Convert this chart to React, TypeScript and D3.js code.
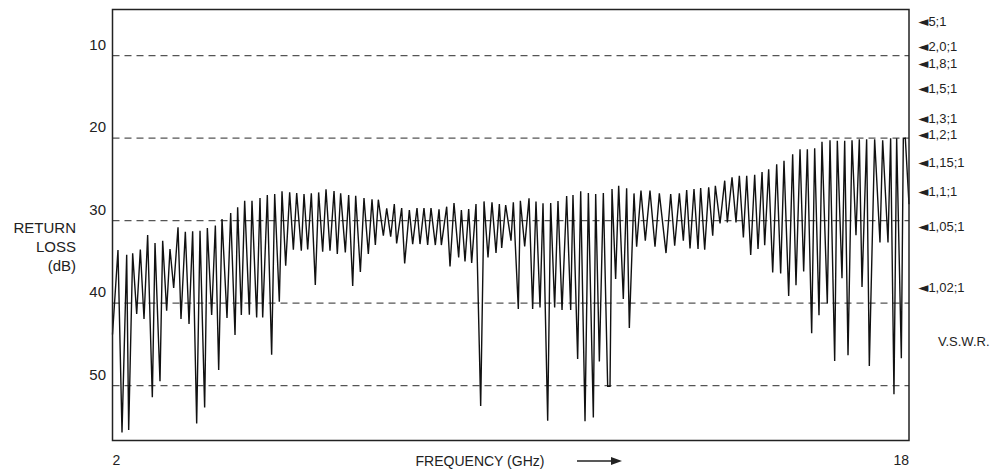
import React from 'react';
import * as d3 from 'd3';

// Frequency (GHz) of each vertex of the measured trace
const freqGHz = [
  2.0, 2.11, 2.191, 2.285, 2.325, 2.405, 2.486, 2.559, 2.633, 2.706, 2.8, 2.854, 2.954, 3.008, 3.088, 3.155, 3.229, 3.316,
  3.376, 3.463, 3.537, 3.61, 3.691, 3.758, 3.851, 3.905, 3.992, 4.066, 4.133, 4.2, 4.3, 4.374, 4.461, 4.514, 4.588, 4.655,
  4.749, 4.802, 4.896, 4.963, 5.017, 5.11, 5.197, 5.258, 5.351, 5.405, 5.479, 5.559, 5.633, 5.7, 5.793, 5.847, 5.921, 5.994,
  6.074, 6.141, 6.222, 6.289, 6.369, 6.45, 6.516, 6.583, 6.677, 6.744, 6.825, 6.885, 6.979, 7.052, 7.139, 7.213,
  7.28, 7.34, 7.441, 7.508, 7.588, 7.661, 7.708, 7.809, 7.869, 7.963, 8.03, 8.117, 8.177, 8.257, 8.331, 8.398, 8.485, 8.559,
  8.606, 8.713, 8.78, 8.86, 8.954, 9.008, 9.081, 9.155, 9.215, 9.302, 9.396, 9.463, 9.543, 9.623, 9.704, 9.771,
  9.818, 9.898, 10.005, 10.052, 10.152, 10.193, 10.28, 10.367, 10.44, 10.507, 10.588, 10.648, 10.742, 10.802, 10.882, 10.949,
  11.03, 11.123, 11.204, 11.25, 11.344, 11.405, 11.492, 11.559, 11.659, 11.706, 11.78, 11.86, 11.947, 11.994, 12.034, 12.107,
  12.168, 12.261, 12.328, 12.382, 12.476,
  12.529, 12.616, 12.703, 12.797, 12.898, 12.985, 13.119, 13.213, 13.293, 13.387, 13.467, 13.534, 13.601, 13.681, 13.762, 13.815,
  13.896, 13.976, 14.057, 14.11, 14.204, 14.298, 14.351, 14.445, 14.525, 14.592, 14.673, 14.74, 14.82, 14.9, 14.967, 15.048,
  15.101, 15.181, 15.262, 15.342, 15.422, 15.489, 15.583, 15.663, 15.73, 15.811, 15.884, 15.958, 16.045, 16.105, 16.192, 16.252,
  16.359, 16.413, 16.507, 16.56, 16.654, 16.708, 16.775, 16.855, 16.935, 17.002, 17.056, 17.149, 17.203, 17.31, 17.417, 17.471,
  17.578, 17.631, 17.698, 17.752, 17.846, 17.886, 17.926, 18.0,
];

// Return loss (dB) of each vertex
const returnLossDb = [
  43.8, 33.56, 55.66, 34.12, 55.37, 33.96, 41.31, 33.5, 41.92, 31.74, 51.41, 32.71, 49.47, 32.42, 40.91, 33.43, 38.16, 30.81,
  41.92, 31.33, 42.53, 31.29, 54.57, 31.21, 52.63, 30.89, 41.43, 30.57, 48.1, 29.8, 41.8, 29.07, 43.86, 28.38, 41.43, 27.58,
  41.39, 27.58, 41.72, 27.25, 41.72, 26.89, 46.24, 26.77, 39.82, 26.44, 35.45, 26.57, 33.52, 26.65, 33.64, 26.77, 33.47, 26.69,
  37.8, 26.57, 33.76, 26.2, 33.64, 26.4, 34.04, 26.69, 33.84, 26.89, 37.92, 26.97, 36.22, 27.25, 34.04, 27.41,
  32.95, 27.45, 31.82, 28.51, 31.94, 27.98, 32.75, 28.46, 35.17, 28.71, 32.83, 28.46, 32.83, 28.46, 32.95, 28.46, 32.95, 28.63,
  32.95, 28.3, 35.54, 27.86, 34.44, 28.71, 34.93, 28.59, 35.13, 27.98, 52.46, 27.66, 34.44, 27.78, 33.92, 27.98,
  33.31, 28.1, 32.42, 27.78, 40.71, 27.58, 33.11, 27.29, 40.71, 27.66, 40.51, 27.9, 54.24, 27.86, 40.51, 27.62,
  40.83, 27.01, 40.83, 26.89, 46.77, 26.44, 54.32, 26.65, 53.84, 26.77, 47.05, 26.65, 50.08, 50.08, 26.16, 37.07,
  25.76, 39.49, 26.08, 43.01, 26.69,
  33.15, 26.36, 32.42, 26.36, 33.15, 26.69, 33.92, 26.77, 33.03, 26.69, 32.42, 26.28, 33.35, 26.16, 33.43, 26.04,
  33.52, 25.96, 31.82, 25.76, 30.32, 25.15, 30.2, 24.75, 30.2, 24.55, 32.02, 24.55, 34.16, 24.42, 33.43, 24.11,
  32.97, 23.76, 36.28, 23.15, 36.4, 22.75, 39.11, 21.94, 37.82, 21.33, 36.16, 21.33, 43.64, 21.21, 41.45, 20.44,
  40.04, 20.24, 46.99, 20.32, 36.97, 20.32, 46.3, 20.24, 31.76, 20.12, 38.02, 20.12, 47.6, 20.12, 32.65, 20.24,
  32.65, 20.0, 51.03, 20.0, 46.67, 20.0, 20.0, 28.0,
];

const yTicks = [10, 20, 30, 40, 50];
const xTickLabels = [2, 18];
const yTitle = ['RETURN', 'LOSS', '(dB)'];
const xTitle = 'FREQUENCY (GHz)';
const vswrLabels = ['5;1', '2,0;1', '1,8;1', '1,5;1', '1,3;1', '1,2;1', '1,15;1', '1,1;1', '1,05;1', '1,02;1'];
const vswrLevelsDb = [5.8, 8.85, 10.85, 13.9, 17.55, 19.5, 22.9, 26.4, 30.65, 38.05];
const vswrTitle = 'V.S.W.R.';
const vswrTitleLevelDb = 44.6;

const FONT = "'Liberation Sans', Arial, Helvetica, sans-serif";

export default function App() {
  const W = 996;
  const H = 470;
  const left = 112.5, right = 909, top = 9.5, bottom = 440.5;
  const x = d3.scaleLinear().domain([2, 18]).range([left, right]);
  const y = d3.scaleLinear().domain([4.4, 56.64]).range([top, bottom]);
  const idx = d3.range(freqGHz.length);
  const line = d3
    .line<number>()
    .x((i) => x(freqGHz[i]))
    .y((i) => y(returnLossDb[i]));

  return (
    <svg
      width={W}
      height={H}
      style={{ position: 'absolute', left: 0, top: 0, background: '#fff' }}
      fontFamily={FONT}
    >
      <rect x={0} y={0} width={W} height={H} fill="#fff" />
      {yTicks.map((t) => (
        <line
          key={'g' + t}
          x1={left}
          x2={right}
          y1={y(t)}
          y2={y(t)}
          stroke="#555"
          strokeWidth={1.3}
          strokeDasharray="7,5"
        />
      ))}
      <path d={line(idx) || ''} fill="none" stroke="#111" strokeWidth={1.4} strokeLinejoin="miter" strokeMiterlimit={4} />
      <rect x={left} y={top} width={right - left} height={bottom - top} fill="none" stroke="#222" strokeWidth={1.5} />
      {yTicks.map((t) => (
        <text key={'t' + t} x={106} y={y(t) - 6} textAnchor="end" fontSize={15} fill="#222">
          {t}
        </text>
      ))}
      {yTitle.map((s, i) => (
        <text key={s} x={76} y={233 + i * 19} textAnchor="end" fontSize={15} fill="#222">
          {s}
        </text>
      ))}
      <text x={x(xTickLabels[0])} y={465} textAnchor="start" fontSize={14} fill="#222">
        {xTickLabels[0]}
      </text>
      <text x={x(xTickLabels[1])} y={465} textAnchor="end" fontSize={14} fill="#222">
        {xTickLabels[1]}
      </text>
      <text x={480} y={466} textAnchor="middle" fontSize={14} fill="#222">
        {xTitle}
      </text>
      <line x1={577} x2={614} y1={461} y2={461} stroke="#222" strokeWidth={1.3} />
      <path d="M622,461 L611,457 L611,465 Z" fill="#222" />
      {vswrLabels.map((s, i) => (
        <text key={s} x={918} y={y(vswrLevelsDb[i]) + 5} fontSize={13} fill="#222">
          <tspan fontFamily="'DejaVu Sans', sans-serif" fontSize={13.5}>{'\u25C4'}</tspan>
          <tspan>{s}</tspan>
        </text>
      ))}
      <text x={938} y={y(vswrTitleLevelDb) + 5} fontSize={13} fill="#222">
        {vswrTitle}
      </text>
    </svg>
  );
}
